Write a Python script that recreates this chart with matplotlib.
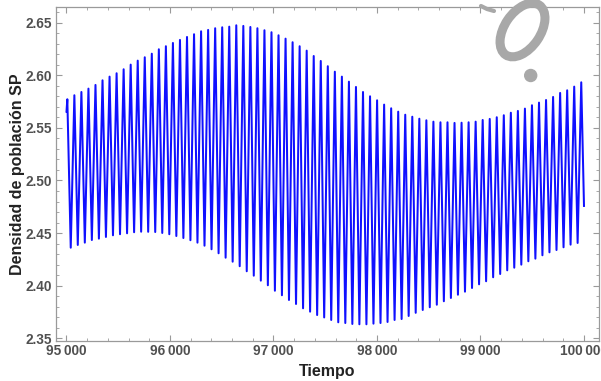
import numpy as np
import matplotlib
matplotlib.use("Agg")
import matplotlib.pyplot as plt
from matplotlib.ticker import MultipleLocator, FuncFormatter
from matplotlib.patches import Ellipse, Circle

# ---- data ----
t_start, v_start = 95000.0, 2.5654
t_end, v_end = 100000.0, 2.4758
first_peak_t = 95008.0
first_trough_t = 95041.0
period = 68.02

peaks = [2.5772, 2.5810, 2.5841, 2.5873, 2.5908, 2.5952, 2.5987, 2.6019, 2.6057, 2.6101,
         2.6139, 2.6171, 2.6205, 2.6247, 2.6276, 2.6307, 2.6336, 2.6364, 2.6390, 2.6418,
         2.6431, 2.6447, 2.6456, 2.6462, 2.6475, 2.6469, 2.6459, 2.6447, 2.6428, 2.6409,
         2.6380, 2.6348, 2.6314, 2.6276, 2.6234, 2.6183, 2.6136, 2.6086, 2.6034, 2.5987,
         2.5939, 2.5889, 2.5841, 2.5800, 2.5762, 2.5721, 2.5686, 2.5654, 2.5625, 2.5606,
         2.5587, 2.5572, 2.5559, 2.5553, 2.5553, 2.5547, 2.5549, 2.5553, 2.5559, 2.5575,
         2.5585, 2.5601, 2.5620, 2.5644, 2.5661, 2.5683, 2.5715, 2.5740, 2.5765, 2.5794,
         2.5832, 2.5857, 2.5892, 2.5933]

troughs = [2.4361, 2.4387, 2.4409, 2.4434, 2.4447, 2.4463, 2.4479, 2.4489, 2.4498, 2.4508,
           2.4513, 2.4512, 2.4510, 2.4501, 2.4489, 2.4472, 2.4453, 2.4432, 2.4409, 2.4380,
           2.4346, 2.4308, 2.4266, 2.4228, 2.4185, 2.4137, 2.4095, 2.4048, 2.4004, 2.3952,
           2.3909, 2.3864, 2.3826, 2.3785, 2.3753, 2.3721, 2.3698, 2.3674, 2.3652, 2.3645,
           2.3636, 2.3633, 2.3633, 2.3639, 2.3645, 2.3655, 2.3674, 2.3683, 2.3712, 2.3742,
           2.3769, 2.3795, 2.3819, 2.3852, 2.3883, 2.3914, 2.3943, 2.3978, 2.4013, 2.4042,
           2.4080, 2.4111, 2.4146, 2.4171, 2.4200, 2.4232, 2.4257, 2.4289, 2.4317, 2.4339,
           2.4365, 2.4390, 2.4406]

x_ticks = [95000, 96000, 97000, 98000, 99000, 100000]
y_ticks = [2.35, 2.40, 2.45, 2.50, 2.55, 2.60, 2.65]
x_label = "Tiempo"
y_label = "Densidad de población SP"

# ---- build series ----
peak_t = first_peak_t + period * np.arange(len(peaks))
trough_t = first_trough_t + period * np.arange(len(troughs))
ts = [t_start]
vs = [v_start]
for i in range(len(peaks)):
    ts.append(peak_t[i]); vs.append(peaks[i])
    if i < len(troughs):
        ts.append(trough_t[i]); vs.append(troughs[i])
ts.append(t_end); vs.append(v_end)

plt.rcParams['font.family'] = ['Liberation Sans', 'DejaVu Sans']

fig = plt.figure(figsize=(6.01, 3.81), dpi=100)
W, H = 601, 381
ax = fig.add_axes([56 / W, 1 - 340.7 / H, (599 - 56) / W, (340.7 - 7.3) / H])
ax.plot(ts, vs, color='#1010ff', lw=1.45, solid_joinstyle='round')

ax.set_xlim(94898.6, 100145)
ax.set_ylim(2.3477, 2.6646)
ax.set_xticks(x_ticks)
ax.set_yticks(y_ticks)
ax.xaxis.set_minor_locator(MultipleLocator(200))
ax.yaxis.set_minor_locator(MultipleLocator(0.01))
ax.xaxis.set_major_formatter(FuncFormatter(lambda v, p: f"{int(v)//1000}\u2009{int(v)%1000:03d}"))
ax.yaxis.set_major_formatter(FuncFormatter(lambda v, p: f"{v:.2f}"))

frame_col = '#9a9a9a'
for s in ax.spines.values():
    s.set_color(frame_col)
    s.set_linewidth(0.9)
ax.tick_params(which='both', direction='in', top=True, right=True, color=frame_col)
ax.tick_params(which='major', length=4.5, width=0.8, labelsize=9.8, labelcolor='#505050', pad=2.5)
ax.tick_params(which='minor', length=2.5, width=0.6)
ax.tick_params(axis='y', pad=3)
for lab in ax.get_xticklabels() + ax.get_yticklabels():
    lab.set_fontweight('bold')

ax.set_xlabel(x_label, fontsize=11.5, fontweight='bold', color='#222222', labelpad=4)
ax.set_ylabel(y_label, fontsize=11.5, fontweight='bold', color='#222222', labelpad=0)

# watermark fragment overlay (decorative)
ov = fig.add_axes([0, 0, 1, 1], zorder=5)
ov.set_xlim(0, W)
ov.set_ylim(H, 0)
ov.axis('off')
ov.patch.set_alpha(0)
ov.add_patch(Ellipse((522.5, 30), 60, 36, angle=-56, fill=False,
                     edgecolor='#a8a8a8', lw=6.5))
ov.add_patch(Circle((530.7, 75.5), 6, color='#a8a8a8'))
ov.plot([481, 487, 494], [6, 9, 11], color='#a8a8a8', lw=3, solid_capstyle='round')

fig.savefig('out.png', dpi=100)
